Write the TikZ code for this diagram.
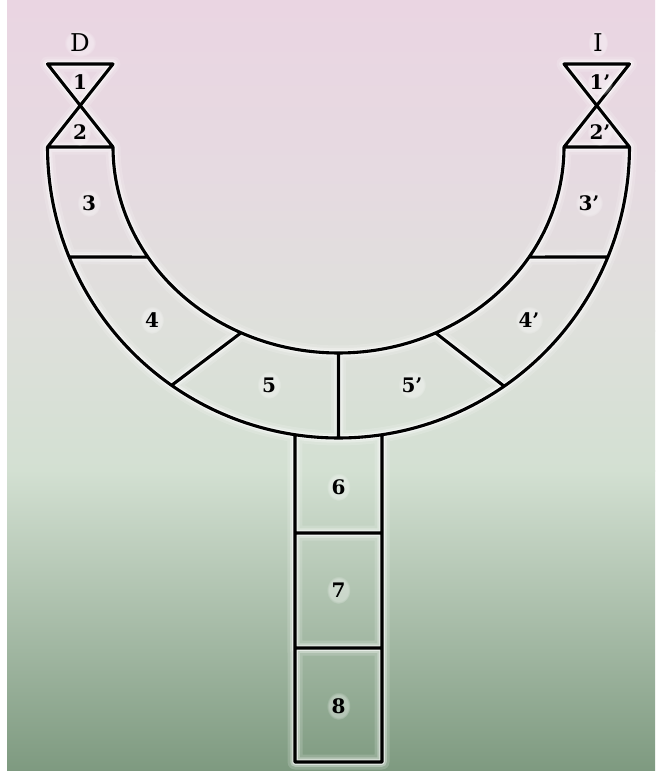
\documentclass[tikz,border=0pt]{standalone}
\usepackage{fontspec}
\usetikzlibrary{fadings}
\newfontfamily\digfont{DejaVu Serif}
\definecolor{bgA}{RGB}{234,213,226}
\definecolor{bgB}{RGB}{230,218,225}
\definecolor{bgC}{RGB}{222,224,219}
\definecolor{bgD}{RGB}{211,224,210}
\definecolor{bgE}{RGB}{126,154,128}
\newcommand\labtxt[1]{\scalebox{2.0}{\normalsize\digfont\bfseries #1}}
\newcommand\ttltxt[1]{\scalebox{2.45}{\normalsize\digfont #1}}
\begin{document}
\begin{tikzpicture}[x=1pt,y=-1pt,
  outl/.style={line width=3.1pt, line join=round, draw=black},
  glowa/.style={line width=15pt, draw=white, opacity=0.16, line join=round},
  glowb/.style={line width=9.5pt, draw=white, opacity=0.28, line join=round},
  glowc/.style={line width=5.5pt, draw=white, opacity=0.6, line join=round},
  lab/.style={inner sep=0pt},
  halo/.style={fill=white, opacity=0.35, path fading=circle with fuzzy edge 20 percent}]
\useasboundingbox (0,0) rectangle (659,771);
\fill[white] (0,0) rectangle (659,771);
% background gradient bands
\shade[top color=bgA, bottom color=bgB] (7,0) rectangle (655,171);
\shade[top color=bgB, bottom color=bgC] (7,170) rectangle (655,331);
\shade[top color=bgC, bottom color=bgD] (7,330) rectangle (655,471);
\shade[top color=bgD, bottom color=bgE] (7,470) rectangle (655,771);
\def\cx{338.5}\def\cy{147}\def\R{291}\def\ea{225.5}\def\eb{206}
% outer circle points
\coordinate (O180) at ({\cx+\R*cos(180)},{\cy+\R*sin(180)});
\coordinate (O0)   at ({\cx+\R*cos(0)},{\cy+\R*sin(0)});
\coordinate (Oa) at ({\cx+\R*cos(157.8)},{\cy+\R*sin(157.8)});
\coordinate (Ob) at ({\cx+\R*cos(125)},{\cy+\R*sin(125)});
\coordinate (Oc) at ({\cx+\R*cos(90)},{\cy+\R*sin(90)});
\coordinate (Od) at ({\cx+\R*cos(55.3)},{\cy+\R*sin(55.3)});
\coordinate (Oe) at ({\cx+\R*cos(22.2)},{\cy+\R*sin(22.2)});
\coordinate (S1) at ({\cx+\R*cos(98.6)},{\cy+\R*sin(98.6)});
\coordinate (S2) at ({\cx+\R*cos(81.4)},{\cy+\R*sin(81.4)});
% inner ellipse points
\coordinate (I180) at ({\cx+\ea*cos(180)},{\cy+\eb*sin(180)});
\coordinate (I0)   at ({\cx+\ea*cos(0)},{\cy+\eb*sin(0)});
\coordinate (Ia) at ({\cx+\ea*cos(147.7)},{\cy+\eb*sin(147.7)});
\coordinate (Ib) at ({\cx+\ea*cos(115.6)},{\cy+\eb*sin(115.6)});
\coordinate (Ic) at ({\cx+\ea*cos(90)},{\cy+\eb*sin(90)});
\coordinate (Id) at ({\cx+\ea*cos(64.5)},{\cy+\eb*sin(64.5)});
\coordinate (Ie) at ({\cx+\ea*cos(32.3)},{\cy+\eb*sin(32.3)});
% stem
\coordinate (SB1) at (295,762);
\coordinate (SB2) at (382,762);
\coordinate (H1a) at (295,533); \coordinate (H1b) at (382,533);
\coordinate (H2a) at (295,648); \coordinate (H2b) at (382,648);
% hourglasses
\coordinate (HL1) at (47.5,64); \coordinate (HL2) at (113,64);
\coordinate (HLc) at (80.25,105.5);
\coordinate (HR1) at (564,64); \coordinate (HR2) at (629.5,64);
\coordinate (HRc) at (596.75,105.5);
\newcommand\mypaths{
 (I180) -- (O180) -- plot[domain=180:0,samples=150] ({\cx+\R*cos(\x)},{\cy+\R*sin(\x)})
   -- (I0) -- plot[domain=0:180,samples=150] ({\cx+\ea*cos(\x)},{\cy+\eb*sin(\x)}) -- cycle
 (Oa) -- (Ia) (Ob) -- (Ib) (Oc) -- (Ic) (Od) -- (Id) (Oe) -- (Ie)
 (S1) -- (SB1) -- (SB2) -- (S2)
 (H1a) -- (H1b) (H2a) -- (H2b)
 (HL1) -- (HL2) -- (HLc) -- cycle (HLc) -- (I180) -- (O180) -- cycle
 (HR1) -- (HR2) -- (HRc) -- cycle (HRc) -- (O0) -- (I0) -- cycle
}
\path[glowa] \mypaths;
\path[glowb] \mypaths;
\path[glowc] \mypaths;
\path[outl] \mypaths;
% labels with a soft white halo
\newcommand\glowlab[4]{%
 \path[halo] (#2) ellipse[x radius=#4, y radius=14];
 \node[lab] (#1) at (#2) {#3};}
\glowlab{tD}{80,43}{\ttltxt{D}}{16}
\glowlab{tI}{598,43}{\ttltxt{I}}{10}
\glowlab{l1}{80,82}{\labtxt{1}}{11}
\glowlab{l2}{80,132}{\labtxt{2}}{11}
\glowlab{l1p}{600,82}{\labtxt{1’}}{13}
\glowlab{l2p}{600,132}{\labtxt{2’}}{13}
\glowlab{l3}{89,203}{\labtxt{3}}{12}
\glowlab{l3p}{589,203}{\labtxt{3’}}{14}
\glowlab{l4}{152,320}{\labtxt{4}}{12}
\glowlab{l4p}{529,320}{\labtxt{4’}}{14}
\glowlab{l5}{269,385}{\labtxt{5}}{12}
\glowlab{l5p}{412,385}{\labtxt{5’}}{14}
\glowlab{l6}{338.5,487}{\labtxt{6}}{12}
\glowlab{l7}{338.5,590}{\labtxt{7}}{12}
\glowlab{l8}{338.5,706}{\labtxt{8}}{12}
\end{tikzpicture}
\end{document}
